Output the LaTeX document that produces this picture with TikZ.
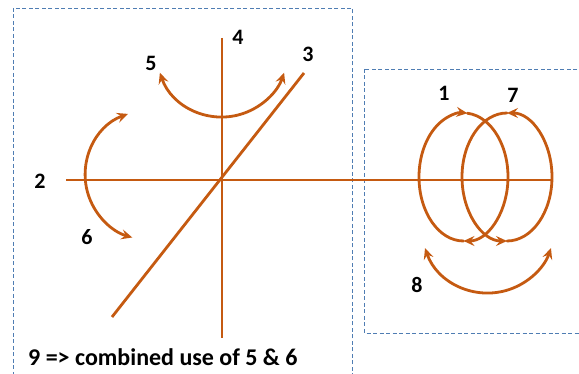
\documentclass[tikz,border=0pt]{standalone}
\usepackage{fontspec}
\setmainfont{Carlito}
\usetikzlibrary{arrows.meta}
\definecolor{rust}{HTML}{C55A11}
\definecolor{boxblue}{HTML}{4F7DB3}
\tikzset{
  axis/.style={draw=rust, line width=2.8pt},
  rot/.style={draw=rust, line width=2.8pt, line cap=round},
  tip/.style={-{Stealth[length=11pt,width=10pt,inset=4pt]}},
  tips/.style={{Stealth[length=11pt,width=10pt,inset=4pt]}-{Stealth[length=11pt,width=10pt,inset=4pt]}},
  lbl/.style={font=\bfseries\fontsize{22}{26}\selectfont, text=black, inner sep=0pt},
  frame/.style={draw=boxblue, line width=0.8pt, dash pattern=on 4pt off 2.5pt}
}
\begin{document}
\begin{tikzpicture}[x=1pt,y=1pt]
\useasboundingbox (0,0) rectangle (579,374);
\clip (0,0) rectangle (579,374);
% frames
\draw[frame] (13,366) rectangle (352,-10);
\draw[frame] (364,305) rectangle (590,41);
% axes
\coordinate (hL) at (66,194);
\coordinate (hR) at (553,194);
\coordinate (vT) at (222,336);
\coordinate (vB) at (222,36);
\coordinate (dT) at (304,301);
\coordinate (dB) at (112,57);
\draw[axis] (hL) -- (hR);
\draw[axis] (vT) -- (vB);
\draw[axis] (dT) -- (dB);
% rotation 5
\draw[rot,tips] (222,322.7) ++(199:65.7) arc[start angle=199, end angle=341, radius=65.7];
% rotation 6
\draw[rot,tips] (150.2,199) ++(110:65) arc[start angle=110, end angle=254, radius=65];
% rotation 8
\draw[rot,tips] (488,147.6) ++(199:66.6) arc[start angle=199, end angle=341, radius=66.6];
% ellipse 1 (clockwise)
\coordinate (e1) at (463.5,197);
\draw[rot,tip] (e1) ++(270:{44.5 and 64}) arc[start angle=270, end angle=85, x radius=44.5, y radius=64];
\draw[rot,tip] (e1) ++(85:{44.5 and 64}) arc[start angle=85, end angle=-90, x radius=44.5, y radius=64];
% ellipse 7 (counterclockwise)
\coordinate (e7) at (507,197);
\draw[rot,tip] (e7) ++(270:{45 and 64}) arc[start angle=270, end angle=450, x radius=45, y radius=64];
\draw[rot,tip] (e7) ++(90:{45 and 64}) arc[start angle=90, end angle=270, x radius=45, y radius=64];
% labels
\node[lbl] (l4) at (238,337) {4};
\node[lbl] (l3) at (308,320) {3};
\node[lbl] (l5) at (151,311) {5};
\node[lbl] (l2) at (40,193) {2};
\node[lbl] (l6) at (87,137) {6};
\node[lbl] (l1) at (444,281) {1};
\node[lbl] (l7) at (513,279) {7};
\node[lbl] (l8) at (417,89) {8};
\node[lbl, anchor=west, font=\bfseries\fontsize{24}{28}\selectfont] (note) at (28,17) {9 => combined use of 5 \& 6};
\end{tikzpicture}
\end{document}
